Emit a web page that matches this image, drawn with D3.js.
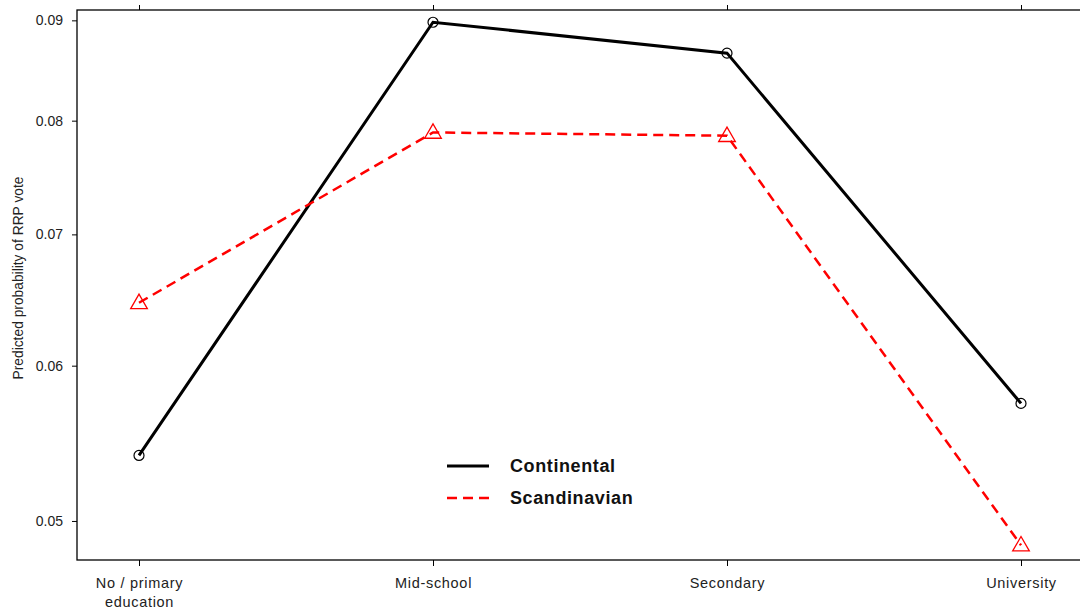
<!DOCTYPE html>
<html>
<head>
<meta charset="utf-8">
<script src="https://cdn.jsdelivr.net/npm/d3@7"></script>
<style>
  body { margin: 0; background: #fff; }
  svg { display: block; font-family: "Liberation Sans", Arial, sans-serif; }
</style>
</head>
<body>
<svg id="chart"></svg>
<script>
// education levels on the x axis
categories = ["No / primary\neducation", "Mid-school", "Secondary", "University"];
// predicted probabilities
continental = [0.0540, 0.0898, 0.0866, 0.0574];
scandinavian = [0.0646, 0.0789, 0.0786, 0.0486];
y_ticks = [0.05, 0.06, 0.07, 0.08, 0.09];
series_names = ["Continental", "Scandinavian"];

WIDTH = 1080
HEIGHT = 614
margin = { top: 10, right: -4, bottom: 54, left: 77 }

var svg = d3.select("#chart").attr("width", WIDTH).attr("height", HEIGHT);
var plotW = WIDTH - margin.left - margin.right;
var plotH = HEIGHT - margin.top - margin.bottom;

var x = d3.scalePoint().domain(categories).range([62, 944]);
var y = d3.scaleLog().domain([0.04776, 0.0911]).range([plotH, 0]);

var g = svg.append("g")
    .attr("transform", "translate(" + margin.left + "," + margin.top + ")");

// box
g.append("rect")
    .attr("width", plotW).attr("height", plotH)
    .attr("fill", "none").attr("stroke", "#000").attr("stroke-width", 1.3);

// y axis
var yAxis = g.append("g")
    .call(d3.axisLeft(y).tickValues(y_ticks).tickFormat(d3.format(".2f")).tickSize(5).tickPadding(9));
yAxis.select(".domain").remove();
yAxis.selectAll("text").attr("font-size", 14).attr("font-family", "Liberation Sans, Arial, sans-serif").attr("fill", "#222");

// x axis (bottom), labels may span two lines
var xAxis = g.append("g")
    .attr("transform", "translate(0," + plotH + ")")
    .call(d3.axisBottom(x).tickSize(6).tickFormat(""));
xAxis.select(".domain").remove();
xAxis.selectAll(".tick").each(function (d) {
    var t = d3.select(this).append("text")
        .attr("fill", "#222")
        .attr("font-size", 14.5)
        .attr("letter-spacing", 0.7)
        .attr("font-family", "Liberation Sans, Arial, sans-serif")
        .attr("text-anchor", "middle")
        .attr("y", 28);
    d.split("\n").forEach(function (line, i) {
        t.append("tspan").attr("x", 0).attr("dy", i === 0 ? 0 : 19).text(line);
    });
});

// mirrored ticks on top
var xTop = g.append("g").call(d3.axisTop(x).tickSize(5).tickFormat(""));
xTop.select(".domain").remove();

svg.append("text")
    .attr("text-anchor", "middle")
    .attr("transform", "rotate(-90)")
    .attr("x", -278)
    .attr("y", 23)
    .attr("font-size", 13.8)
    .attr("fill", "#222")
    .text("Predicted probability of RRP vote");

var line = d3.line()
    .x(function (d, i) { return x(categories[i]); })
    .y(function (d) { return y(d); });

g.append("path")
    .datum(continental)
    .attr("d", line)
    .attr("fill", "none")
    .attr("stroke", "#000")
    .attr("stroke-width", 3);

g.append("path")
    .datum(scandinavian)
    .attr("d", line)
    .attr("fill", "none")
    .attr("stroke", "#ff0000")
    .attr("stroke-width", 2.5)
    .attr("stroke-dasharray", "10,6");

g.selectAll("circle.cont")
    .data(continental)
    .enter().append("circle")
    .attr("class", "cont")
    .attr("cx", function (d, i) { return x(categories[i]); })
    .attr("cy", function (d) { return y(d); })
    .attr("r", 5)
    .attr("fill", "none")
    .attr("stroke", "#000")
    .attr("stroke-width", 1.2);

var tri = d3.symbol().type(d3.symbolTriangle).size(120);
g.selectAll("path.scan")
    .data(scandinavian)
    .enter().append("path")
    .attr("class", "scan")
    .attr("d", tri)
    .attr("transform", function (d, i) { return "translate(" + x(categories[i]) + "," + (y(d) + 1) + ")"; })
    .attr("fill", "none")
    .attr("stroke", "#ff0000")
    .attr("stroke-width", 1.3);

// legend
var legend = svg.append("g").attr("transform", "translate(447,466)");
var styles = [
    { stroke: "#000", width: 3, dash: null },
    { stroke: "#ff0000", width: 2.5, dash: "10,6" }
];
series_names.forEach(function (name, i) {
    var row = legend.append("g").attr("transform", "translate(0," + (i * 32) + ")");
    row.append("line")
        .attr("x1", 0).attr("x2", 42)
        .attr("stroke", styles[i].stroke)
        .attr("stroke-width", styles[i].width)
        .attr("stroke-dasharray", styles[i].dash);
    row.append("text")
        .attr("x", 63).attr("y", 6)
        .attr("font-size", 18)
        .attr("letter-spacing", 0.6)
        .attr("font-weight", "bold")
        .attr("fill", "#111")
        .text(name);
});
</script>
</body>
</html>
